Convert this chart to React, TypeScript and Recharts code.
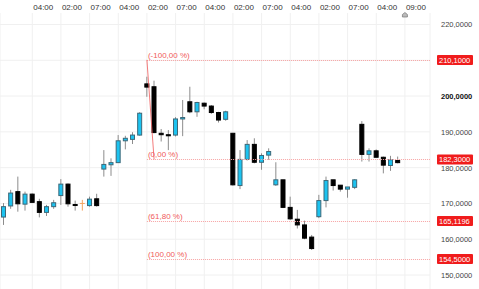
import {
  Bar,
  CartesianGrid,
  ComposedChart,
  ReferenceLine,
  XAxis,
  YAxis,
} from "recharts";

// OHLC candles
const opens = [
  166.2, 169.3, 173.3, 169.8, 172.6, 170.5, 167.5, 169.1, 172.2, 175.4, 169.7, 170.0, 169.4, 171.3,
  179.6, 180.8, 181.4, 187.5, 187.9, 189.1, 203.4, 202.6, 189.6, 189.2, 189.1, 193.6, 198.4, 195.6,
  198.0, 197.2, 195.4, 193.5, 189.6, 175.0, 182.3, 186.5, 181.5, 183.5, 175.2, 176.6, 168.9, 165.6,
  164.0, 160.6, 166.3, 170.8, 176.6, 175.1, 174.0, 174.5, 192.1, 183.7, 184.7, 182.9, 180.6, 182.0,
];
const highs = [
  170.1, 173.8, 177.5, 173.3, 172.8, 171.3, 169.6, 171.0, 176.8, 175.6, 170.8, 171.0, 171.9, 172.7,
  184.9, 182.6, 189.1, 188.9, 189.9, 195.5, 205.4, 204.3, 190.8, 190.5, 194.1, 198.9, 202.6, 198.4,
  198.2, 197.5, 195.6, 195.9, 189.7, 184.9, 187.7, 188.2, 184.0, 185.4, 181.5, 176.6, 171.9, 168.2,
  165.2, 161.2, 172.4, 177.5, 176.6, 175.1, 174.6, 176.8, 193.0, 185.4, 185.1, 183.1, 183.3, 183.1,
];
const lows = [
  164.0, 168.5, 167.7, 168.0, 170.1, 166.1, 166.5, 168.5, 169.6, 169.1, 168.0, 168.0, 169.1, 169.1,
  177.5, 177.7, 181.3, 185.1, 186.6, 188.9, 199.8, 189.6, 187.3, 184.9, 188.7, 188.8, 195.2, 194.2,
  196.3, 195.0, 192.6, 193.1, 175.0, 174.0, 182.0, 181.2, 179.4, 182.2, 174.9, 168.7, 165.4, 163.0,
  160.0, 157.0, 165.9, 168.9, 173.6, 173.3, 171.6, 174.0, 181.7, 181.7, 182.9, 178.4, 179.1, 181.2,
];
const closes = [
  169.1, 172.9, 169.9, 172.6, 170.3, 167.5, 169.1, 170.2, 175.4, 169.9, 169.6, 170.0, 171.2, 169.4,
  180.9, 181.4, 187.5, 188.2, 189.1, 195.2, 202.5, 189.8, 189.2, 188.9, 193.6, 194.0, 195.6, 198.2,
  197.2, 195.4, 193.3, 195.6, 175.2, 182.3, 186.5, 181.5, 183.4, 184.5, 176.6, 168.9, 165.7, 164.0,
  160.3, 157.4, 170.8, 176.4, 175.0, 174.0, 174.6, 176.6, 183.7, 184.7, 182.9, 180.7, 182.2, 181.4,
];
const futureSlots = 4;

const timeLabels = [
  "04:00", "02:00", "07:00", "04:00", "02:00", "07:00", "04:00",
  "02:00", "07:00", "04:00", "02:00", "07:00", "04:00", "09:00",
];
const labelEvery = 4;

const gridValues = [150, 160, 170, 180, 190, 200, 210, 220];
// 210 sits under the 210,1000 marker, so it gets no label of its own
const priceLabels = [150, 160, 170, 180, 190, 200, 220];
const fibLevels = [210.1, 182.3, 165.1196, 154.5];
const fibNames = ["(-100,00 %)", "(0,00 %)", "(61,80 %)", "(100,00 %)"];
const fibStart = 20;
const fibEnd = 21;

const UP = "#1cc3f0";
const DOWN = "#000000";
const FIB = "#f05a5a";
const FIB_LINE = "#f7a3a3";
const FONT = "'Liberation Sans', Arial, sans-serif";

const slotKey = (i: number) => `s${i}`;

const data = [
  ...opens.map((o, i) => ({
    slot: slotKey(i),
    range: [lows[i], highs[i]],
    open: o,
    high: highs[i],
    low: lows[i],
    close: closes[i],
  })),
  ...Array.from({ length: futureSlots }, (_, k) => ({ slot: slotKey(opens.length + k) })),
];

const xTicks = timeLabels.map((_, i) => slotKey(labelEvery * (i + 1)));
const labelFor: Record<string, string> = {};
xTicks.forEach((k, i) => (labelFor[k] = timeLabels[i]));

function Candle(props: any) {
  const { x, y, width, height, payload } = props;
  if (!payload || !payload.range) return null;
  const { open, high, low, close } = payload;
  const top = Math.min(y, y + height);
  const h = Math.abs(height);
  const ppu = h / (high - low);
  const py = (v: number) => top + (high - v) * ppu;
  const cx = x + width / 2;
  const bTop = py(Math.max(open, close));
  const bH = Math.max(1, py(Math.min(open, close)) - bTop);
  const doji = open === close;
  const up = close > open;
  const fill = doji ? "#f4a460" : up ? UP : DOWN;
  const stroke = doji ? "#f4a460" : up ? "#3d6878" : DOWN;
  return (
    <g>
      <line x1={cx} x2={cx} y1={top} y2={top + h} stroke={doji ? "#f4a460" : "#8c8c8c"} strokeWidth={1} />
      {doji ? (
        <line x1={x} x2={x + width} y1={bTop} y2={bTop} stroke={fill} strokeWidth={1} />
      ) : (
        <rect x={x + 0.5} y={bTop} width={width - 1} height={bH} fill={fill} stroke={stroke} strokeWidth={1} />
      )}
    </g>
  );
}

function TimeTick(props: any) {
  const { x, payload } = props;
  const label = labelFor[payload.value] ?? "";
  const last = label === timeLabels[timeLabels.length - 1];
  return (
    <g>
      <text x={x + 1} y={10} fontSize={8} fill="#333" fontFamily={FONT} textAnchor="start">
        {label}
      </text>
      {last && (
        <path
          d={`M${x - 2.5},17 L${x - 2.5},14.5 L${x},12.5 L${x + 2.5},14.5 L${x + 2.5},17 Z`}
          fill="#bbb"
          stroke="#777"
          strokeWidth={0.7}
        />
      )}
    </g>
  );
}

function PriceTick(props: any) {
  const { x, y, payload } = props;
  const v: number = payload.value;
  const txt = v.toFixed(4).replace(".", ",");
  if (fibLevels.includes(v)) {
    return (
      <g>
        <rect x={x - 1} y={y - 5} width={36} height={10} fill="#f01c1c" rx={1} />
        <text x={x + 1} y={y + 3} fontSize={7.5} fill="#fff" fontFamily={FONT}>
          {txt}
        </text>
      </g>
    );
  }
  return (
    <text
      x={x + 3}
      y={y + 3}
      fontSize={7.5}
      fill={v === 200 ? "#111" : "#444"}
      fontWeight={v === 200 ? "bold" : "normal"}
      fontFamily={FONT}
    >
      {txt}
    </text>
  );
}

function FibLabel(text: string) {
  return (props: any) => {
    const vb = props.viewBox || {};
    return (
      <text x={vb.x + 1} y={vb.y - 2} fontSize={8} fill={FIB} fontFamily={FONT}>
        {text}
      </text>
    );
  };
}

function FibLevelLine(props: any) {
  const { x1, x2, y1, y2 } = props;
  return (
    <line
      x1={x1}
      x2={x2 + 4}
      y1={Math.round(y1) + 0.5}
      y2={Math.round(y2) + 0.5}
      stroke={FIB_LINE}
      strokeWidth={1}
      strokeDasharray="1 1"
    />
  );
}

export default function App() {
  const lastSlot = slotKey(data.length - 1);
  return (
    <div style={{ position: "absolute", left: 0, top: 0, background: "#fff" }}>
      <ComposedChart
        width={479}
        height={289}
        data={data}
        margin={{ top: 0, right: 0, bottom: 0, left: 0 }}
        barCategoryGap={0}
      >
        <CartesianGrid stroke="#f0f0f0" horizontalValues={gridValues} vertical horizontal />
        <XAxis
          dataKey="slot"
          orientation="top"
          height={13}
          ticks={xTicks}
          interval={0}
          axisLine={false}
          tickLine={false}
          tick={<TimeTick />}
        />
        <YAxis
          orientation="right"
          width={49}
          domain={[146.1, 223.2]}
          allowDataOverflow
          ticks={[...priceLabels, ...fibLevels]}
          interval={0}
          axisLine={false}
          tickLine={false}
          tick={<PriceTick />}
        />
        {fibLevels.map((lv, i) => (
          <ReferenceLine
            key={lv}
            segment={[
              { x: slotKey(fibStart), y: lv },
              { x: lastSlot, y: lv },
            ]}
            stroke={FIB_LINE}
            shape={<FibLevelLine />}
            label={FibLabel(fibNames[i])}
          />
        ))}
        <ReferenceLine
          segment={[
            { x: slotKey(fibStart), y: fibLevels[0] },
            { x: slotKey(fibEnd), y: fibLevels[1] },
          ]}
          stroke={FIB}
          strokeWidth={0.8}
        />
        <Bar dataKey="range" barSize={5} shape={<Candle />} isAnimationActive={false} />
      </ComposedChart>
    </div>
  );
}
